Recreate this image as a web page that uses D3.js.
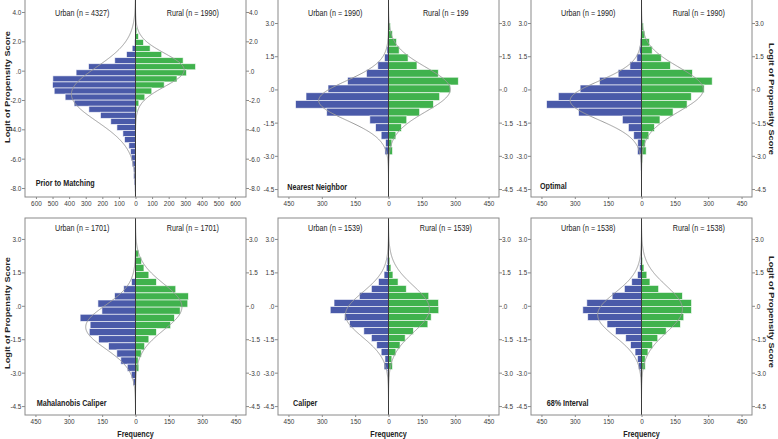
<!DOCTYPE html>
<html><head><meta charset="utf-8">
<script src="https://cdn.jsdelivr.net/npm/d3@7"></script>
<style>
body{margin:0;background:#fff}
svg{display:block}
text{font-family:Arial,"Liberation Sans",sans-serif}
</style>
</head><body>
<svg id="c" width="778" height="439"></svg>
<script>
// ---------------- DATA ----------------
const methods = ["Prior to Matching", "Nearest Neighbor", "Optimal", "Mahalanobis Caliper", "Caliper", "68% Interval"];
const urbanN = [4327, 1990, 1990, 1701, 1539, 1538];
const ruralN = [1990, 1990, 1990, 1701, 1539, 1538];
const urbanLabels = ["Urban (n = 4327)", "Urban (n = 1990)", "Urban (n = 1990)", "Urban (n = 1701)", "Urban (n = 1539)", "Urban (n = 1538)"];
const ruralLabels = ["Rural (n = 1990)", "Rural (n = 199", "Rural (n = 1990)", "Rural (n = 1701)", "Rural (n = 1539)", "Rural (n = 1538)"];

// histogram bins: upper edge of first bin and bin width (logit units)
const binTop = [2.958, 3.0, 3.0, 2.82, 2.49, 2.49];
const binWidth = [0.414, 0.35, 0.35, 0.32, 0.315, 0.315];

// frequencies per bin, from top bin downward
const urbanPrior   = [0,0,6,20,54,125,283,358,498,500,490,424,370,281,211,149,112,76,66,40,30,26,20,12,12,8,4];
const ruralPrior   = [8,18,48,88,158,287,362,307,250,173,98,56,20,8,3,2,1];
const urbanNearest = [0,0,4,7,18,48,99,184,272,371,418,278,84,58,33,13,16,1,2,0,1];
const ruralNearest = [9,18,36,48,88,128,224,314,278,230,202,140,82,58,33,15,18,2];
const urbanOptimal = [0,0,6,9,21,52,105,189,276,374,427,283,86,59,35,17,18,4,3,0,2];
const ruralOptimal = [9,15,36,48,89,130,229,318,282,224,205,142,83,58,33,17,21,4];
const urbanMahal   = [0,0,0,0,0,18,53,94,169,151,249,204,208,166,121,84,66,37,19,11,2];
const ruralMahal   = [3,15,27,38,60,94,181,238,235,201,175,158,94,60,41,26,12,15,2];
const urbanCaliper = [1,6,10,20,45,77,131,245,262,198,175,111,77,53,33,16,20,5,2,1];
const ruralCaliper = [1,6,11,20,43,80,181,225,226,192,177,112,75,52,33,15,18,3,1];
const urbanInterval= [1,5,8,18,44,77,132,246,264,242,155,117,71,49,29,18,14,5,1];
const ruralInterval= [1,5,11,24,38,77,184,225,225,190,175,111,73,50,29,17,17,3];

// normal curve parameters
const urbanMean = [-1.6, -0.5, -0.5, -0.95, -0.4, -0.4];
const urbanSD   = [1.85, 0.885, 0.866, 0.97, 1.0, 0.98];
const ruralMean = [0.05, 0.0, 0.0, -0.05, -0.15, -0.15];
const ruralSD   = [1.12, 1.0, 1.0, 1.04, 1.05, 1.05];

// tick values
const yTicksPrior = [4, 2, 0, -2, -4, -6, -8];
const yTicksMatched = [3, 1.5, 0, -1.5, -3, -4.5];
const xTicksPrior = [-600,-500,-400,-300,-200,-100,0,100,200,300,400,500,600];
const xTicksMatched = [-450,-300,-150,0,150,300,450];

// ---------------- LAYOUT / STYLE ----------------
const urbanCounts = [urbanPrior, urbanNearest, urbanOptimal, urbanMahal, urbanCaliper, urbanInterval];
const ruralCounts = [ruralPrior, ruralNearest, ruralOptimal, ruralMahal, ruralCaliper, ruralInterval];
const colX = [25, 278, 531], colW = 221;
const rowTop = [-1, 218], rowH = [198, 197];
const yDomains = [[-8.614, 4.886], [-4.86, 4.085], [-4.86, 4.085], [-4.9, 3.94], [-4.9, 3.94], [-4.9, 3.94]];
const xMax = [666, 497, 497, 497, 497, 497];
const headerY = [15.7, 230.7];
const labelPos = [[35.7,186],[287.3,190],[540,189],[36.7,405.7],[293,405.7],[546.7,405.7]];
const BLUE = "#4a5aa9", GREEN = "#40b24d", GRAY = "#8a8a8a", CURVE = "#9c9c9c";
const FONT = "Arial, 'Liberation Sans', sans-serif";

const svg = d3.select("#c");
const defs = svg.append("defs");
const fmtY = v => v === 0 ? ".0" : (v < 0 ? "-" : "") + Math.abs(v).toFixed(1);
const pdf = (y, m, s) => Math.exp(-0.5 * ((y - m) / s) ** 2) / (s * Math.sqrt(2 * Math.PI));

function hText(parent, x, y, str, opts) {
  return parent.append("text")
    .attr("transform", `translate(${x},${y}) scale(0.8,1)`)
    .attr("text-anchor", opts.anchor || "start")
    .attr("font-size", opts.size || 9)
    .attr("font-weight", opts.bold ? "bold" : "normal")
    .attr("fill", opts.fill || "#222")
    .text(str);
}

for (let p = 0; p < 6; p++) {
  const r = Math.floor(p / 3), c = p % 3;
  const x0 = colX[c], y0 = rowTop[r], w = colW, h = rowH[r];
  const xs = d3.scaleLinear().domain([-xMax[p], xMax[p]]).range([x0, x0 + w]);
  const ys = d3.scaleLinear().domain(yDomains[p]).range([y0 + h, y0]);
  const g = svg.append("g");
  const cid = "clip" + p;
  defs.append("clipPath").attr("id", cid).append("rect")
    .attr("x", x0).attr("y", y0).attr("width", w).attr("height", h);
  g.append("rect").attr("x", x0).attr("y", y0).attr("width", w).attr("height", h).attr("fill", "#fff");
  const plot = g.append("g").attr("clip-path", `url(#${cid})`);
  const bw = binWidth[p], top = binTop[p];
  const bins = arr => arr.map((v, i) => ({ v, hi: top - i * bw, lo: top - (i + 1) * bw })).filter(d => d.v > 0);

  plot.selectAll("rect.u").data(bins(urbanCounts[p])).join("rect").attr("class", "u")
    .attr("x", d => xs(-d.v)).attr("width", d => xs(0) - xs(-d.v))
    .attr("y", d => ys(d.hi)).attr("height", d => ys(d.lo) - ys(d.hi))
    .attr("fill", BLUE).attr("stroke", "#fff").attr("stroke-width", 0.8).attr("stroke-opacity", 0.75);
  plot.selectAll("rect.r").data(bins(ruralCounts[p])).join("rect").attr("class", "r")
    .attr("x", xs(0)).attr("width", d => xs(d.v) - xs(0))
    .attr("y", d => ys(d.hi)).attr("height", d => ys(d.lo) - ys(d.hi))
    .attr("fill", GREEN).attr("stroke", "#fff").attr("stroke-width", 0.8).attr("stroke-opacity", 0.75);

  const [d0, d1] = yDomains[p];
  const samples = d3.range(0, 401).map(k => d0 + k * (d1 - d0) / 400);
  plot.append("path").datum(samples)
    .attr("d", d3.line().x(y => xs(-urbanN[p] * bw * pdf(y, urbanMean[p], urbanSD[p]))).y(y => ys(y)))
    .attr("fill", "none").attr("stroke", CURVE).attr("stroke-width", 1);
  plot.append("path").datum(samples)
    .attr("d", d3.line().x(y => xs(ruralN[p] * bw * pdf(y, ruralMean[p], ruralSD[p]))).y(y => ys(y)))
    .attr("fill", "none").attr("stroke", CURVE).attr("stroke-width", 1);

  // zero line
  g.append("line").attr("x1", xs(0)).attr("x2", xs(0)).attr("y1", y0).attr("y2", y0 + h)
    .attr("stroke", "#3a3a3a").attr("stroke-width", 1);
  // frame
  g.append("rect").attr("x", x0).attr("y", y0).attr("width", w).attr("height", h)
    .attr("fill", "none").attr("stroke", GRAY).attr("stroke-width", 1);

  const yt = p === 0 ? yTicksPrior : yTicksMatched;
  const xt = p === 0 ? xTicksPrior : xTicksMatched;

  const la = g.append("g").attr("transform", `translate(${x0},0)`)
    .call(d3.axisLeft(ys).tickValues(yt).tickFormat(fmtY).tickSize(3).tickSizeOuter(0));
  const ra = g.append("g").attr("transform", `translate(${x0 + w},0)`)
    .call(d3.axisRight(ys).tickValues(yt).tickFormat(fmtY).tickSize(3).tickSizeOuter(0));
  const ba = g.append("g").attr("transform", `translate(0,${y0 + h})`)
    .call(d3.axisBottom(xs).tickValues(xt).tickFormat(v => Math.abs(v)).tickSize(2).tickSizeOuter(0));
  [la, ra, ba].forEach(a => {
    a.attr("font-family", FONT).attr("font-size", 8);
    a.select(".domain").remove();
    a.selectAll("line").attr("stroke", GRAY);
    a.selectAll("text").attr("fill", "#3a3a3a").attr("transform", "scale(0.8,1)");
  });
  la.selectAll("text").attr("x", -4.5);
  ra.selectAll("text").attr("x", 3.8);
  ba.selectAll("text").attr("y", 9).attr("dy", null);

  // headers
  hText(g, (x0 + xs(0)) / 2 + 2, headerY[r], urbanLabels[p], { anchor: "middle", size: 9 });
  hText(g, (xs(0) + x0 + w) / 2 + 2, headerY[r], ruralLabels[p], { anchor: "middle", size: 9 });
  // method label
  hText(g, labelPos[p][0], labelPos[p][1], methods[p], { bold: true, size: 9 });

  if (r === 1) hText(g, xs(0), 437, "Frequency", { anchor: "middle", bold: true, size: 9 });
}

// vertical axis titles
const vt = [[9.5, 87, -90], [9.5, 313, -90], [769, 99, 90], [769, 312, 90]];
vt.forEach(([x, y, rot]) => {
  svg.append("text")
    .attr("transform", `translate(${x},${y}) scale(0.8,1) rotate(${rot})`)
    .attr("text-anchor", "middle").attr("font-size", 9.2).attr("font-weight", "bold")
    .attr("fill", "#222").text("Logit of Propensity Score");
});
</script>
</body></html>
